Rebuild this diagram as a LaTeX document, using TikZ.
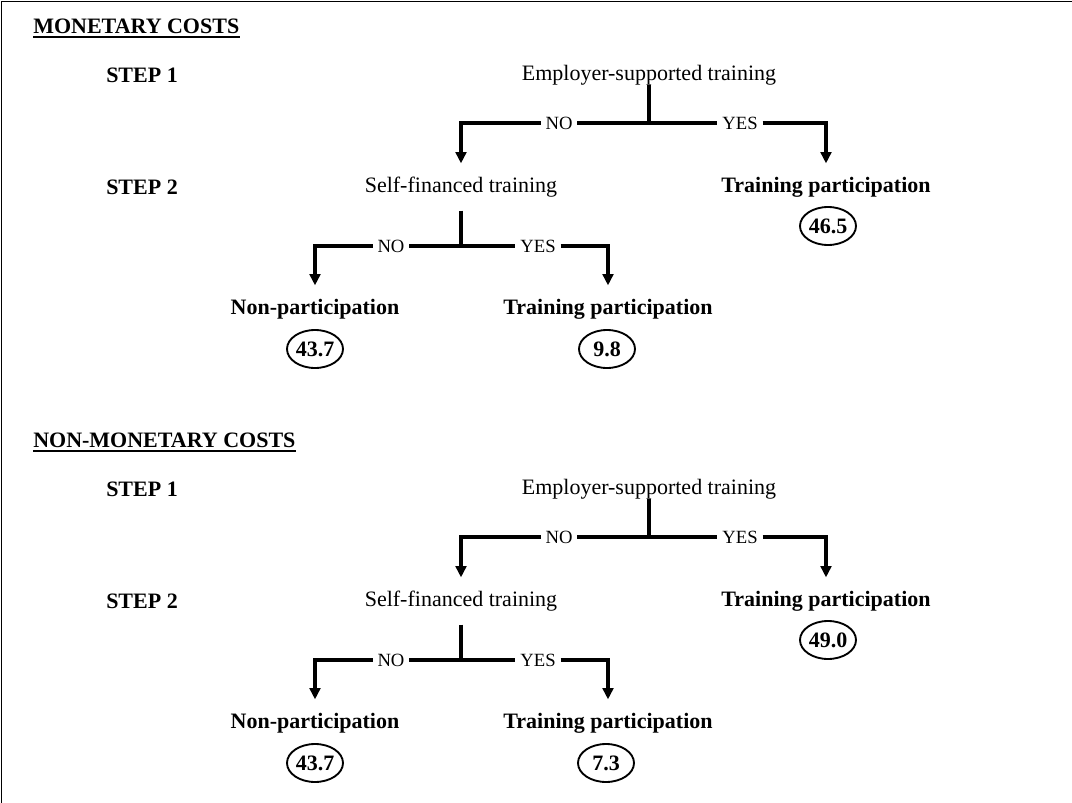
\documentclass[tikz,border=0pt]{standalone}
\usepackage{fontspec}
\setmainfont{Liberation Serif}
\usetikzlibrary{arrows.meta,shapes.geometric}
\newcommand{\mainsize}{\fontsize{16.5}{19}\selectfont}
\newcommand{\choicesize}{\fontsize{14}{16}\selectfont}
\tikzset{
  txt/.style={font=\mainsize, inner xsep=0pt, inner ysep=10pt, text height=11.5pt, text depth=3.5pt},
  btxt/.style={txt, font=\bfseries\mainsize},
  head/.style={font=\bfseries\mainsize, inner sep=0pt, anchor=base west},
  stepname/.style={font=\bfseries\mainsize, inner sep=0pt, anchor=west},
  choice/.style={font=\choicesize, inner xsep=3.5pt, inner ysep=0pt},
  share/.style={draw, ellipse, line width=1.4pt, minimum width=42pt, minimum height=28.5pt, inner sep=0pt, font=\bfseries\mainsize},
  branch/.style={line width=2.3pt},
  arr/.style={branch, -{Triangle[width=8pt,length=8.5pt]}},
}
\begin{document}
\begin{tikzpicture}[x=0.75pt,y=-0.75pt]
    \def\dy{414}
    \useasboundingbox (0,0) rectangle (1072,803);
    \draw[line width=1.3pt] (1072,1.5) -- (1.5,1.5) -- (1.5,803);
    % monetary costs
    \node[head] (M_head) at (33,33) {MONETARY COSTS};
    \node[stepname] (M0_0) at (106,75) {STEP 1};
    \node[txt, inner ysep=0pt] (M0_1) at (649,75) {Employer-supported training};
    \node[stepname] (M1_0) at (106,187) {STEP 2};
    \node[txt] (M1_1) at (461,187) {Self-financed training};
    \node[btxt] (M1_2) at (826,187) {Training participation};
    \node[share] (M1_3) at (828,226) {46.5};
    \node[btxt] (M2_1) at (315,309) {Non-participation};
    \node[btxt] (M2_2) at (608,309) {Training participation};
    \node[share] (M3_1) at (315,349) {43.7};
    \node[share] (M3_2) at (607,349) {9.8};
    \coordinate (Mj0) at (649,123);
    \coordinate (Mj1) at (461,246);
    \node[choice] (Mno0) at (559,123) {NO};
    \node[choice] (Myes0) at (740,123) {YES};
    \node[choice] (Mno1) at (391,246) {NO};
    \node[choice] (Myes1) at (538,246) {YES};
    \draw[line width=1.6pt] ([yshift=-3pt]M_head.base west) -- ([yshift=-3pt]M_head.base east);
    \path (M0_1) edge [branch] (Mj0);
    \path (Mj0) edge [branch] (Mno0);
    \path (Mj0) edge [branch] (Myes0);
    \draw[arr] (Mno0) -| (M1_1);
    \draw[arr] (Myes0) -| (M1_2);
    \path (M1_1) edge [branch] (Mj1);
    \path (Mj1) edge [branch] (Mno1);
    \path (Mj1) edge [branch] (Myes1);
    \draw[arr] (Mno1) -| (M2_1);
    \draw[arr] (Myes1) -| (M2_2);
    % non-monetary costs
    \node[head] (N_head) at (33,33+\dy) {NON-MONETARY COSTS};
    \node[stepname] (N0_0) at (106,75+\dy) {STEP 1};
    \node[txt, inner ysep=0pt] (N0_1) at (649,75+\dy) {Employer-supported training};
    \node[stepname] (N1_0) at (106,187+\dy) {STEP 2};
    \node[txt] (N1_1) at (461,187+\dy) {Self-financed training};
    \node[btxt] (N1_2) at (826,187+\dy) {Training participation};
    \node[share] (N1_3) at (828,226+\dy) {49.0};
    \node[btxt] (N2_1) at (315,309+\dy) {Non-participation};
    \node[btxt] (N2_2) at (608,309+\dy) {Training participation};
    \node[share] (N3_1) at (315,349+\dy) {43.7};
    \node[share] (N3_2) at (606,349+\dy) {7.3};
    \coordinate (Nj0) at (649,123+\dy);
    \coordinate (Nj1) at (461,246+\dy);
    \node[choice] (Nno0) at (559,123+\dy) {NO};
    \node[choice] (Nyes0) at (740,123+\dy) {YES};
    \node[choice] (Nno1) at (391,246+\dy) {NO};
    \node[choice] (Nyes1) at (538,246+\dy) {YES};
    \draw[line width=1.6pt] ([yshift=-3pt]N_head.base west) -- ([yshift=-3pt]N_head.base east);
    \path (N0_1) edge [branch] (Nj0);
    \path (Nj0) edge [branch] (Nno0);
    \path (Nj0) edge [branch] (Nyes0);
    \draw[arr] (Nno0) -| (N1_1);
    \draw[arr] (Nyes0) -| (N1_2);
    \path (N1_1) edge [branch] (Nj1);
    \path (Nj1) edge [branch] (Nno1);
    \path (Nj1) edge [branch] (Nyes1);
    \draw[arr] (Nno1) -| (N2_1);
    \draw[arr] (Nyes1) -| (N2_2);
\end{tikzpicture}
\end{document}
